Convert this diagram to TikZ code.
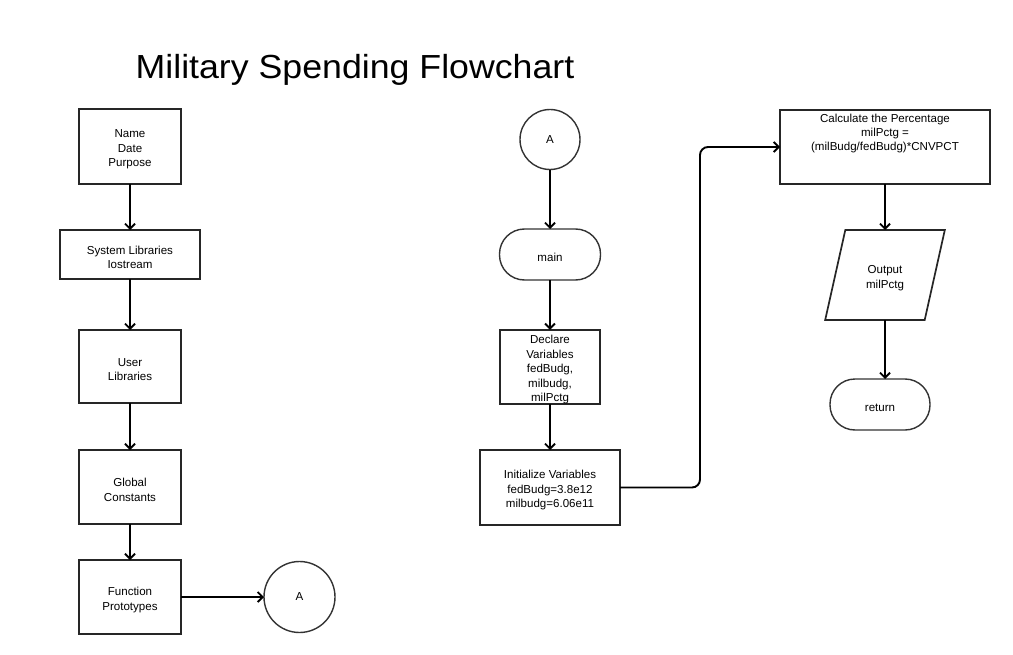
\documentclass[tikz,border=0pt]{standalone}
\usepackage{fontspec}
\setmainfont{Liberation Sans}
\usetikzlibrary{arrows.meta,shapes.geometric,positioning}
\newcommand\tstr{\rule{0pt}{14bp}}
\begin{document}
\begin{tikzpicture}[x=1bp,y=-1bp,
  txt/.style={font=\fontsize{11.6}{14.5}\selectfont, align=center, text=black},
  box/.style={txt, draw=black!85, line width=1.7bp, rectangle, inner sep=0pt, outer sep=0pt},
  conn/.style={txt, draw=black!80, line width=1.4bp, circle, inner sep=0pt, outer sep=0pt},
  term/.style={txt, draw=black!80, line width=1.4bp, rectangle, rounded corners=25bp, inner sep=0pt, outer sep=0pt},
  io/.style={txt, draw=black!85, line width=1.7bp, trapezium, trapezium left angle=72.7, trapezium right angle=107.3, trapezium stretches=true, inner sep=0pt, outer sep=0pt},
  flow/.style={draw=black, line width=1.9bp, -{Straight Barb[length=5bp,width=10bp,line width=1.9bp]}}
]
\useasboundingbox (0,0) rectangle (1013,655);
\node[font=\fontsize{33.5}{38}\selectfont, anchor=base, xscale=1.07] (title) at (355,78.5) {Military Spending Flowchart};

% left column
\node[box, minimum width=102bp, minimum height=75bp] (name) at (130,146.5) {\tstr Name\\Date\\Purpose};
\node[box, minimum width=140bp, minimum height=49bp] (sys) at (130,254.5) {\tstr System Libraries\\Iostream};
\node[box, minimum width=102bp, minimum height=73bp] (user) at (130,366.5) {\tstr User\\Libraries};
\node[box, minimum width=102bp, minimum height=74bp] (glob) at (130,487) {\tstr Global\\Constants};
\node[box, minimum width=102bp, minimum height=74bp] (func) at (130,597) {\tstr Function\\Prototypes};
\node[conn, minimum size=71bp] (a1) at (299.5,597) {A};

% middle column
\node[conn, minimum size=60bp] (a2) at (550,139.5) {A};
\node[term, minimum width=101bp, minimum height=51bp] (main) at (550,254.5) {\tstr main};
\node[box, minimum width=100bp, minimum height=74bp] (decl) at (550,367) {\tstr Declare\\Variables\\fedBudg,\\milbudg,\\milPctg};
\node[box, minimum width=140bp, minimum height=75bp] (init) at (550,487.5) {\tstr Initialize Variables\\fedBudg=3.8e12\\milbudg=6.06e11};

% right column
\node[box, minimum width=210bp, minimum height=74bp] (calc) at (885,147) {};
\node[txt, anchor=north, inner sep=0pt] (calctxt) at (885,113.5) {Calculate the Percentage\\milPctg =\\(milBudg/fedBudg)*CNVPCT};
\node[io, minimum width=120bp, minimum height=90bp] (out) at (885,275) {\tstr Output\\milPctg};
\node[term, minimum width=100bp, minimum height=51bp] (ret) at (880,404.5) {\tstr return};

% connectors
\draw[flow] (name.south) -- (sys.north);
\draw[flow] (sys.south) -- (user.north);
\draw[flow] (user.south) -- (glob.north);
\draw[flow] (glob.south) -- (func.north);
\draw[flow] (func.east) -- (a1.west);
\draw[flow] (a2.south) -- (main.north);
\draw[flow] (main.south) -- (decl.north);
\draw[flow] (decl.south) -- (init.north);
\draw[flow, rounded corners=8bp] (init.east) -- ++(80,0) |- (calc.west);
\draw[flow] (calc.south) -- (out.north);
\draw[flow] (out.south) -- (out.south |- ret.north);
\end{tikzpicture}
\end{document}
